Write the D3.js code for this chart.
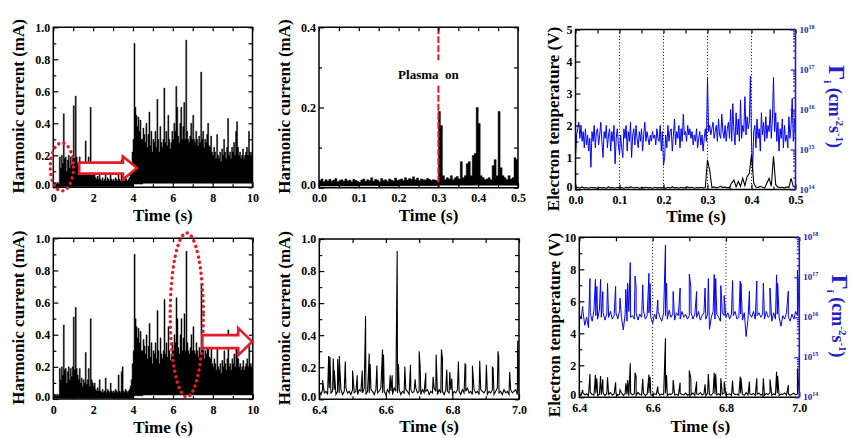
<!DOCTYPE html>
<html><head><meta charset="utf-8">
<script src="https://cdn.jsdelivr.net/npm/d3@7"></script>
<style>
body{margin:0;background:#fff}
svg{display:block}
</style>
</head><body>
<svg id="chart" width="859" height="438"></svg>
<script>
// ===================== DATA =====================
// 0-10 s harmonic current record (mA): per-bin maxima (0.05 s bins) and minima (0.5 s bins)
const longTimeStep = 0.05;
const harmonicLongMax = [
 0.03,0.02,0.03,0.02,0.03,0.02,0.19,0.12,0.20,0.15,0.46,0.18,0.19,0.10,0.17,0.20,0.12,0.19,0.14,0.20,
 0.51,0.18,0.57,0.19,0.15,0.12,0.19,0.10,0.13,0.08,0.12,0.10,0.29,0.09,0.12,0.19,0.08,0.50,0.12,0.10,
 0.08,0.10,0.06,0.05,0.07,0.05,0.12,0.05,0.04,0.06,0.04,0.05,0.13,0.04,0.06,0.05,0.04,0.10,0.05,0.04,
 0.05,0.04,0.06,0.05,0.04,0.15,0.05,0.04,0.17,0.20,0.05,0.04,0.06,0.05,0.04,0.05,0.06,0.08,0.12,0.22,
 0.30,0.90,0.50,0.45,0.38,0.44,0.35,0.42,0.30,0.30,0.37,0.33,0.28,0.40,0.25,0.33,0.47,0.26,0.35,0.22,
 0.30,0.28,0.35,0.25,0.55,0.30,0.22,0.38,0.28,0.25,0.30,0.62,0.28,0.35,0.26,0.45,0.30,0.24,0.28,0.35,
 0.30,0.40,0.35,0.63,0.50,0.32,0.28,0.40,0.50,0.30,0.38,0.53,0.30,0.92,0.35,0.30,0.28,0.32,0.40,0.30,
 0.45,0.30,0.28,0.35,0.30,0.26,0.32,0.28,0.72,0.30,0.35,0.25,0.30,0.28,0.33,0.40,0.26,0.25,0.32,0.22,
 0.20,0.25,0.22,0.18,0.33,0.20,0.18,0.22,0.16,0.24,0.20,0.30,0.22,0.18,0.25,0.43,0.20,0.22,0.18,0.25,
 0.22,0.28,0.20,0.35,0.41,0.25,0.20,0.22,0.18,0.20,0.24,0.18,0.20,0.22,0.25,0.20,0.35,0.22,0.20,0.22
];
const harmonicLongMinStep = 0.5;
const harmonicLongMin = [0.005,0.005,0.005,0.005,0.005,0.005,0.005,0.005,0.02,0.025,
                         0.025,0.025,0.025,0.025,0.025,0.025,0.025,0.025,0.025,0.025];

// 0-0.5 s harmonic current at plasma onset (mA): 0.005 s bin maxima, 0.05 s bin minima
const onsetStep = 0.005;
const harmonicOnsetMax = [
 0.018,0.022,0.015,0.020,0.017,0.021,0.016,0.019,0.023,0.015,0.018,0.020,0.016,0.022,0.017,0.019,0.015,0.021,0.018,0.016,
 0.014,0.019,0.022,0.016,0.020,0.018,0.025,0.017,0.021,0.019,0.015,0.023,0.018,0.020,0.016,0.022,0.019,0.017,0.024,0.018,
 0.020,0.022,0.018,0.025,0.019,0.023,0.021,0.027,0.020,0.024,0.018,0.022,0.020,0.019,0.023,0.021,0.018,0.020,0.019,0.017,
 0.190,0.155,0.030,0.020,0.025,0.022,0.030,0.020,0.025,0.028,0.022,0.065,0.025,0.030,0.060,0.065,0.030,0.080,0.085,0.200,
 0.160,0.030,0.025,0.020,0.022,0.025,0.020,0.055,0.070,0.030,0.190,0.050,0.030,0.025,0.020,0.030,0.022,0.025,0.075,0.070
];
const harmonicOnsetMinStep = 0.05;
const harmonicOnsetMin = [0.004,0.004,0.005,0.004,0.005,0.005,0.006,0.006,0.006,0.006];

// 0-0.5 s electron temperature (V), 0.005 s sampling
const teOnsetStep = 0.005;
const teOnset = [
 0.05,0.07,0.04,0.08,0.05,0.06,0.04,0.07,0.05,0.06,0.03,0.07,0.05,0.06,0.04,0.08,0.05,0.06,0.04,0.07,
 0.05,0.06,0.04,0.07,0.05,0.08,0.06,0.05,0.07,0.04,0.06,0.05,0.07,0.05,0.06,0.04,0.07,0.05,0.06,0.05,
 0.06,0.04,0.07,0.05,0.08,0.05,0.06,0.04,0.07,0.05,0.06,0.08,0.05,0.07,0.04,0.06,0.05,0.07,0.05,0.06,
 0.93,0.60,0.06,0.08,0.05,0.07,0.10,0.06,0.08,0.05,0.07,0.20,0.30,0.08,0.25,0.10,0.35,0.12,0.40,0.50,
 1.10,0.20,0.08,0.06,0.10,0.07,0.05,0.20,0.35,0.10,1.04,0.15,0.08,0.06,0.07,0.05,0.08,0.06,0.35,0.10,0.06
];
// 0-0.5 s ion flux, in units of 1e15 cm^-2 s^-1, 0.0025 s sampling
const fluxUnit = 1e15;
const fluxOnsetStep = 0.0025;
const fluxOnset = [
 0.63,2.3,3.3,4.8,1.9,4.0,1.6,2.8,1.1,3.3,1.3,2.3,0.91,1.9,0.36,2.8,1.6,4.0,1.1,2.8,
 3.3,1.3,2.3,4.8,1.6,0.63,2.8,1.9,4.0,1.1,2.3,3.3,0.91,2.8,1.6,4.0,0.44,1.9,3.3,1.3,
 0.76,2.3,1.1,0.63,3.3,1.9,4.0,0.91,2.8,1.6,4.8,0.63,2.3,3.3,1.3,4.0,1.9,1.1,2.8,1.6,
 3.3,0.91,2.3,4.8,1.6,2.8,1.9,1.3,2.3,1.6,2.8,1.9,2.3,1.3,3.3,1.9,1.6,4.0,0.91,2.8,
 0.40,0.63,2.3,1.1,4.0,1.6,2.8,3.3,0.91,2.3,5.8,1.3,2.8,1.9,4.0,1.1,3.3,1.6,7.6,2.3,
 2.8,1.6,4.0,2.3,3.3,1.9,2.8,1.3,2.3,1.6,3.3,1.1,1.9,2.8,1.3,2.3,0.91,1.9,3.3,1.6,
 63,2.8,4.0,2.3,3.3,4.8,1.9,2.8,4.0,1.6,5.8,2.3,1.9,7.6,2.8,1.9,4.0,1.6,3.3,4.8,
 1.9,10,1.6,14,2.8,1.3,8.3,2.3,5.8,1.6,17.4,1.9,4.0,2.8,21,2.3,6.6,3.3,4.8,69,
 1.6,0.28,2.8,4.0,1.1,5.8,1.9,3.3,0.91,8.3,2.3,4.8,1.6,6.6,1.9,4.0,2.8,10,1.9,5.8,
 63,2.8,8.3,1.6,4.8,0.91,3.3,1.9,5.8,1.1,4.0,1.6,2.3,1.1,6.6,1.9,4.0,19,1.6,5.8,1.9
];

// 6.4-7.0 s window: baselines sampled every 0.005 s plus discrete spikes
const zoomStart = 6.4, zoomStep = 0.005;
const harmonicZoomBase = [
 0.05,0.03,0.06,0.04,0.05,0.03,0.07,0.04,0.05,0.06,0.03,0.05,0.04,0.06,0.03,0.05,0.07,0.04,0.05,0.03,
 0.06,0.04,0.05,0.03,0.06,0.05,0.04,0.07,0.03,0.05,0.04,0.06,0.05,0.03,0.06,0.04,0.05,0.07,0.04,0.05,
 0.03,0.06,0.04,0.05,0.03,0.07,0.05,0.04,0.06,0.03,0.05,0.04,0.06,0.05,0.03,0.06,0.04,0.05,0.07,0.04,
 0.05,0.03,0.06,0.04,0.05,0.06,0.03,0.05,0.04,0.07,0.05,0.03,0.06,0.04,0.05,0.03,0.06,0.05,0.04,0.06,
 0.03,0.05,0.04,0.06,0.05,0.03,0.06,0.04,0.05,0.07,0.04,0.05,0.03,0.06,0.04,0.05,0.03,0.06,0.05,0.04,
 0.06,0.03,0.05,0.04,0.06,0.03,0.05,0.07,0.04,0.05,0.03,0.06,0.04,0.05,0.03,0.06,0.04,0.05,0.06,0.03,0.05
];
const harmonicSpikeTime = [6.410,6.428,6.432,6.442,6.445,6.455,6.460,6.478,6.500,6.514,6.529,6.539,6.550,6.553,6.573,6.590,6.593,6.613,6.619,6.634,6.638,6.657,6.674,6.688,6.700,6.703,6.720,6.742,6.751,6.767,6.770,6.783,6.792,6.798,6.818,6.838,6.840,6.860,6.882,6.902,6.920,6.922,6.937,6.939,6.972,6.996];
const harmonicSpikeValue = [0.12,0.27,0.265,0.255,0.18,0.25,0.27,0.235,0.18,0.15,0.18,0.52,0.285,0.22,0.21,0.31,0.28,0.15,0.15,0.925,0.22,0.205,0.215,0.125,0.30,0.205,0.165,0.14,0.28,0.31,0.255,0.185,0.17,0.13,0.235,0.22,0.215,0.21,0.24,0.215,0.20,0.195,0.30,0.265,0.17,0.365];

const teZoomBase = [
 0.20,0.12,0.28,0.15,0.22,0.10,0.30,0.18,0.14,0.25,0.11,0.20,0.16,0.27,0.12,0.22,0.18,0.30,0.14,0.20,
 0.25,0.13,0.19,0.28,0.12,0.22,0.17,0.10,0.26,0.15,0.21,0.12,0.30,0.18,0.14,0.24,0.11,0.20,0.27,0.15,
 0.12,0.22,0.18,0.29,0.13,0.20,0.16,0.25,0.11,0.21,0.17,0.28,0.14,0.19,0.12,0.24,0.18,0.15,0.26,0.13,
 0.20,0.16,0.27,0.12,0.22,0.18,0.30,0.14,0.21,0.11,0.25,0.17,0.13,0.28,0.19,0.15,0.23,0.12,0.20,0.26,
 0.14,0.18,0.22,0.11,0.27,0.16,0.20,0.13,0.25,0.18,0.12,0.29,0.15,0.21,0.17,0.24,0.11,0.20,0.26,0.14,
 0.19,0.12,0.23,0.17,0.28,0.13,0.21,0.16,0.25,0.11,0.20,0.18,0.27,0.14,0.22,0.12,0.19,0.26,0.15,0.21,0.18
];
const fluxZoomBase = [
 12,9,14,6.3,10,5.5,13,8,15,11,9,16,10,13,8.5,12,10,14,9,11,
 13,9,15,10,4.8,12,8,14,10,11,9,13,8.5,12,10,15,9,11,13,10,
 7,12,9,14,10,8,13,11,9,15,10,12,8.5,13,11,9,14,10,12,9,
 11,13,9,12,10,14,8.5,11,13,9,12,5,10,14,9,12,10,8,13,11,
 10,13,9,12,11,14,9,10,12,8.5,13,3.3,9,12,10,14,9,11,13,10,
 12,9,14,10,11,8,13,9,12,10,6,11,9,13,10,8,12,9,14,11,10
];
const spikeTime6 = [6.409,6.429,6.444,6.448,6.458,6.464,6.477,6.499,6.511,6.527,6.532,6.539,6.552,6.555,6.573,6.590,6.593,6.614,6.635,6.638,6.656,6.675,6.700,6.704,6.720,6.743,6.752,6.768,6.772,6.786,6.795,6.818,6.839,6.841,6.864,6.884,6.902,6.920,6.938,6.941,6.970,6.995];
const teSpike6 = [0.46,1.46,1.40,1.19,1.33,1.13,1.25,0.94,0.46,0.88,1.08,2.12,1.54,1.29,1.15,1.42,1.29,0.67,3.69,1.40,1.08,0.92,1.67,1.19,0.98,0.81,1.46,1.54,1.46,1.19,0.98,1.04,1.29,1.19,0.98,1.19,1.19,1.13,1.60,1.33,0.77,1.81];
const fluxSpike6 = [18.6,93,89,59,89,44,71,59,30,50,71,234,107,59,65,126,70,27,646,71,44,54,120,60,44,54,93,117,93,62,35,83,81,70,45,81,71,54,115,70,45,151];

// axis ticks / labels
const longTimeTicks = [0,2,4,6,8,10], longTimeMinor = [1,3,5,7,9];
const currentTicks = [0,0.2,0.4,0.6,0.8,1.0], currentMinor = [0.1,0.3,0.5,0.7,0.9];
const onsetTimeTicks = [0,0.1,0.2,0.3,0.4,0.5], onsetTimeMinor = [0.05,0.15,0.25,0.35,0.45];
const onsetCurrentTicks = [0,0.2,0.4], onsetCurrentMinor = [0.1,0.3];
const zoomTimeTicks = [6.4,6.6,6.8,7.0], zoomTimeMinor = [6.5,6.7,6.9];
const teTicksTop = [0,1,2,3,4,5], teMinorTop = [0.5,1.5,2.5,3.5,4.5];
const teTicksBottom = [0,2,4,6,8,10], teMinorBottom = [1,3,5,7,9];
const fluxDecades = [1e14,1e15,1e16,1e17,1e18];
const onsetMarkers = [0.1,0.2,0.3,0.4];
const zoomMarkers = [6.6,6.8];
const plasmaOnTime = 0.3;

// ===================== DRAWING =====================
const FONT = '"Liberation Serif","Times New Roman",serif';
const RED = "#e31b2a", BLUE = "#0000ff", BLUE_TXT = "#2020c8";
const TICK_FS = 12;
const svg = d3.select("#chart");
let clipN = 0;

const boxes = {
  p1:{left:53.3,right:252.5,top:27.3,bottom:187.3},
  p2:{left:319,right:518,top:27.3,bottom:187.7},
  p3:{left:575.5,right:795.5,top:29.5,bottom:189.5},
  p4:{left:53.3,right:252.8,top:238.3,bottom:399},
  p5:{left:319.3,right:519,top:239,bottom:399.3},
  p6:{left:579.3,right:799.3,top:237.3,bottom:397.3}
};

function makePanel(box, xd, yd){
  const x = d3.scaleLinear().domain(xd).range([box.left, box.right]);
  const y = d3.scaleLinear().domain(yd).range([box.bottom, box.top]);
  const id = "clip" + (clipN++);
  svg.append("clipPath").attr("id", id).append("rect")
     .attr("x", box.left).attr("y", box.top - 0.5)
     .attr("width", box.right - box.left).attr("height", box.bottom - box.top + 0.5);
  const g = svg.append("g");
  const plot = g.append("g").attr("clip-path", `url(#${id})`);
  return {x, y, g, plot, box};
}

function styleAxis(sel, color){
  sel.attr("font-family", FONT).attr("font-size", TICK_FS).attr("font-weight", "bold")
     .call(s => s.select(".domain").remove());
  sel.selectAll(".tick line").attr("stroke", color || "#000").attr("stroke-width", 1.2);
  sel.selectAll(".tick text").attr("fill", color || "#000");
}

function drawAxes(p, o){
  const {x, y, g, box} = p;
  g.append("g").attr("transform", `translate(0,${box.bottom})`)
   .call(d3.axisBottom(x).tickValues(o.xMajor).tickFormat(o.xFmt).tickSizeInner(-5).tickSizeOuter(0).tickPadding(6))
   .call(s => styleAxis(s));
  g.append("g").attr("transform", `translate(0,${box.bottom})`)
   .call(d3.axisBottom(x).tickValues(o.xMinor).tickFormat("").tickSizeInner(-3).tickSizeOuter(0))
   .call(s => styleAxis(s));
  g.append("g").attr("transform", `translate(0,${box.top})`)
   .call(d3.axisTop(x).tickValues(o.xMajor.concat(o.xMinor)).tickFormat("").tickSizeInner(-4).tickSizeOuter(0))
   .call(s => styleAxis(s));
  const left = g.append("g").attr("transform", `translate(${box.left},0)`)
   .call(d3.axisLeft(y).tickValues(o.yMajor).tickFormat(o.yFmt).tickSizeInner(-5).tickSizeOuter(0).tickPadding(3))
   .call(s => styleAxis(s));
  // lift the label at the origin a little so it clears the x-axis labels
  left.selectAll(".tick text").filter(d => d === o.yMajor[0]).attr("dy", "0.1em");
  g.append("g").attr("transform", `translate(${box.left},0)`)
   .call(d3.axisLeft(y).tickValues(o.yMinor).tickFormat("").tickSizeInner(-3).tickSizeOuter(0))
   .call(s => styleAxis(s));
  if (o.mirrorRight){
    g.append("g").attr("transform", `translate(${box.right},0)`)
     .call(d3.axisRight(y).tickValues(o.yMajor.concat(o.yMinor)).tickFormat("").tickSizeInner(-4).tickSizeOuter(0))
     .call(s => styleAxis(s));
  }
  g.append("path")
   .attr("d", `M${box.right},${box.top} L${box.left},${box.top} L${box.left},${box.bottom} L${box.right},${box.bottom}` + (o.mirrorRight ? ` Z` : ""))
   .attr("fill", "none").attr("stroke", "#000").attr("stroke-width", 1.5);
}

function logAxisRight(p, yR, titleCx, titleCy){
  const {g, box} = p;
  const minor = [];
  fluxDecades.slice(0, -1).forEach(d => { for (let k = 2; k <= 9; k++) minor.push(d * k); });
  g.append("g").attr("transform", `translate(${box.right},0)`)
   .call(d3.axisRight(yR).tickValues(fluxDecades).tickFormat("").tickSizeInner(-5).tickSizeOuter(0))
   .call(s => styleAxis(s, BLUE_TXT));
  g.append("g").attr("transform", `translate(${box.right},0)`)
   .call(d3.axisRight(yR).tickValues(minor).tickFormat("").tickSizeInner(-2.5).tickSizeOuter(0))
   .call(s => styleAxis(s, BLUE_TXT));
  g.append("line").attr("x1", box.right).attr("x2", box.right).attr("y1", box.top).attr("y2", box.bottom)
   .attr("stroke", BLUE_TXT).attr("stroke-width", 1.6);
  fluxDecades.forEach(d => {
    const t = g.append("text").attr("x", box.right + 4).attr("y", yR(d) + 3)
      .attr("font-family", FONT).attr("font-weight", "bold").attr("font-size", 9).attr("fill", BLUE_TXT);
    t.append("tspan").text("10");
    t.append("tspan").attr("font-size", 6).attr("dy", -4).text(Math.round(Math.log10(d)));
  });
  const tt = g.append("text").attr("transform", `translate(${titleCx},${titleCy}) rotate(90)`)
    .attr("text-anchor", "middle").attr("font-family", FONT).attr("font-weight", "bold")
    .attr("font-size", 18).attr("fill", BLUE_TXT);
  tt.append("tspan").attr("font-size", 24).text("Γ");
  tt.append("tspan").attr("font-size", 11).attr("dy", 5).text("i");
  tt.append("tspan").attr("dy", -5).text(" (cm");
  tt.append("tspan").attr("font-size", 11).attr("dy", -7).text("-2");
  tt.append("tspan").attr("dy", 7).text("s");
  tt.append("tspan").attr("font-size", 11).attr("dy", -7).text("-1");
  tt.append("tspan").attr("dy", 7).text(")");
}

function yTitle(text, cx, cy){
  svg.append("text").attr("transform", `translate(${cx},${cy}) rotate(-90)`)
    .attr("text-anchor", "middle").attr("font-family", FONT).attr("font-weight", "bold")
    .attr("font-size", 17).attr("fill", "#000").text(text);
}
function xTitle(cx, by){
  svg.append("text").attr("x", cx).attr("y", by).attr("text-anchor", "middle")
    .attr("font-family", FONT).attr("font-weight", "bold").attr("font-size", 17).attr("fill", "#000").text("Time (s)");
}

function envelopePoints(maxArr, step, minArr, minStep){
  const pts = [];
  maxArr.forEach((v, i) => {
    const lo = minArr[Math.min(minArr.length - 1, Math.floor((i * step) / minStep + 1e-9))];
    pts.push({t: i * step, lo, hi: v});
    pts.push({t: (i + 1) * step, lo, hi: v});
  });
  return pts;
}
function drawEnvelope(p, pts){
  const area = d3.area().x(d => p.x(d.t)).y0(d => p.y(d.lo)).y1(d => p.y(d.hi));
  p.plot.append("path").attr("d", area(pts)).attr("fill", "#000").attr("stroke", "#000").attr("stroke-width", 0.5);
}

function hollowArrow(g, x0, x1, yc, bodyH, headH, headL){
  const d = `M${x0},${yc-bodyH} L${x1-headL},${yc-bodyH} L${x1-headL},${yc-headH} L${x1},${yc} L${x1-headL},${yc+headH} L${x1-headL},${yc+bodyH} L${x0},${yc+bodyH} Z`;
  g.append("path").attr("d", d).attr("fill", "#fff").attr("stroke", RED).attr("stroke-width", 2.6).attr("stroke-linejoin", "miter");
}
function dottedEllipse(g, cx, cy, rx, ry){
  g.append("ellipse").attr("cx", cx).attr("cy", cy).attr("rx", rx).attr("ry", ry)
   .attr("fill", "none").attr("stroke", RED).attr("stroke-width", 3.4)
   .attr("stroke-dasharray", "0.1,5.4").attr("stroke-linecap", "round");
}

const fmt1 = d3.format(".1f"), fmtInt = d3.format("d");
const TITLE_GAP = 33.5;

// ---------- Panel 1 & 4 : 0-10 s harmonic current ----------
const longPts = envelopePoints(harmonicLongMax, longTimeStep, harmonicLongMin, harmonicLongMinStep);
["p1", "p4"].forEach((key, k) => {
  const p = makePanel(boxes[key], [0, 10], [0, 1]);
  drawEnvelope(p, longPts);
  drawAxes(p, {xMajor: longTimeTicks, xMinor: longTimeMinor, xFmt: fmtInt,
               yMajor: currentTicks, yMinor: currentMinor, yFmt: fmt1, mirrorRight: true});
  yTitle("Harmonic current (mA)", boxes[key].left - 29, (boxes[key].top + boxes[key].bottom) / 2 - 1);
  xTitle((boxes[key].left + boxes[key].right) / 2 + 10, boxes[key].bottom + TITLE_GAP);
  if (k === 0){
    dottedEllipse(p.g, p.x(0.43), p.y(0.127), p.x(0.58) - p.x(0), p.y(0) - p.y(0.15));
    hollowArrow(p.g, p.x(1.3), p.x(4.2), p.y(0.12), 5.5, 11.5, 14);
  } else {
    dottedEllipse(p.g, p.x(6.69), p.y(0.523), p.x(0.83) - p.x(0), p.y(0) - p.y(0.51));
    hollowArrow(p.g, p.x(7.47), p.x(9.97), p.y(0.357), 6.5, 13.5, 14);
  }
});

// ---------- Panel 2 : onset harmonic current ----------
{
  const p = makePanel(boxes.p2, [0, 0.5], [0, 0.4]);
  drawEnvelope(p, envelopePoints(harmonicOnsetMax, onsetStep, harmonicOnsetMin, harmonicOnsetMinStep));
  [[0.4, 0.318], [0.254, 0]].forEach(([a, b]) => {
    p.g.append("line").attr("x1", p.x(plasmaOnTime)).attr("x2", p.x(plasmaOnTime))
      .attr("y1", p.y(a)).attr("y2", p.y(b)).attr("stroke", RED).attr("stroke-width", 2)
      .attr("stroke-dasharray", "7,2");
  });
  p.g.append("text").attr("x", p.x(0.275)).attr("y", p.y(0.272)).attr("text-anchor", "middle")
    .attr("font-family", FONT).attr("font-weight", "bold").attr("font-size", 13).attr("fill", "#000")
    .attr("xml:space", "preserve").style("white-space", "pre").text("Plasma  on");
  drawAxes(p, {xMajor: onsetTimeTicks, xMinor: onsetTimeMinor, xFmt: fmt1,
               yMajor: onsetCurrentTicks, yMinor: onsetCurrentMinor, yFmt: fmt1, mirrorRight: true});
  yTitle("Harmonic current (mA)", boxes.p2.left - 29, (boxes.p2.top + boxes.p2.bottom) / 2 - 1);
  xTitle((boxes.p2.left + boxes.p2.right) / 2 + 10, boxes.p2.bottom + TITLE_GAP);
}

// ---------- Panel 3 : onset Te and flux ----------
{
  const p = makePanel(boxes.p3, [0, 0.5], [0, 5]);
  const yR = d3.scaleLog().domain([1e14, 1e18]).range([boxes.p3.bottom, boxes.p3.top]);
  onsetMarkers.forEach(t => p.plot.append("line").attr("x1", p.x(t)).attr("x2", p.x(t))
    .attr("y1", boxes.p3.top).attr("y2", boxes.p3.bottom).attr("stroke", "#000")
    .attr("stroke-width", 1).attr("stroke-dasharray", "1,2.2"));
  const fluxLine = d3.line().x((d, i) => p.x(i * fluxOnsetStep)).y(d => yR(d * fluxUnit));
  p.plot.append("path").attr("d", fluxLine(fluxOnset)).attr("fill", "none").attr("stroke", BLUE).attr("stroke-width", 1);
  const teLine = d3.line().x((d, i) => p.x(i * teOnsetStep)).y(d => p.y(d));
  p.plot.append("path").attr("d", teLine(teOnset)).attr("fill", "none").attr("stroke", "#000").attr("stroke-width", 1.1);
  drawAxes(p, {xMajor: onsetTimeTicks, xMinor: onsetTimeMinor, xFmt: fmt1,
               yMajor: teTicksTop, yMinor: teMinorTop, yFmt: fmtInt, mirrorRight: false});
  logAxisRight(p, yR, 829, 106.5);
  yTitle("Electron temperature (V)", 559, 119);
  xTitle((boxes.p3.left + boxes.p3.right) / 2 + 10.5, boxes.p3.bottom + TITLE_GAP - 1);
}

// ---------- Panel 5 : 6.4-7.0 s harmonic current ----------
function mergeSeries(base, spikeT, spikeV){
  const pts = base.map((v, i) => ({t: zoomStart + i * zoomStep, v}));
  spikeT.forEach((t, i) => pts.push({t, v: spikeV[i]}));
  return pts.sort((a, b) => a.t - b.t);
}
{
  const p = makePanel(boxes.p5, [6.4, 7.0], [0, 1]);
  const line = d3.line().x(d => p.x(d.t)).y(d => p.y(d.v));
  p.plot.append("path").attr("d", line(mergeSeries(harmonicZoomBase, harmonicSpikeTime, harmonicSpikeValue)))
    .attr("fill", "none").attr("stroke", "#000").attr("stroke-width", 1.1);
  drawAxes(p, {xMajor: zoomTimeTicks, xMinor: zoomTimeMinor, xFmt: fmt1,
               yMajor: currentTicks, yMinor: currentMinor, yFmt: fmt1, mirrorRight: true});
  yTitle("Harmonic current (mA)", boxes.p5.left - 29, (boxes.p5.top + boxes.p5.bottom) / 2 - 1);
  xTitle((boxes.p5.left + boxes.p5.right) / 2 + 10, boxes.p5.bottom + TITLE_GAP - 0.5);
}

// ---------- Panel 6 : 6.4-7.0 s Te and flux ----------
{
  const p = makePanel(boxes.p6, [6.4, 7.0], [0, 10]);
  const yR = d3.scaleLog().domain([1e14, 1e18]).range([boxes.p6.bottom, boxes.p6.top]);
  zoomMarkers.forEach(t => p.plot.append("line").attr("x1", p.x(t)).attr("x2", p.x(t))
    .attr("y1", boxes.p6.top).attr("y2", boxes.p6.bottom).attr("stroke", "#000")
    .attr("stroke-width", 1).attr("stroke-dasharray", "1,2.2"));
  const fl = d3.line().x(d => p.x(d.t)).y(d => yR(d.v * fluxUnit));
  p.plot.append("path").attr("d", fl(mergeSeries(fluxZoomBase, spikeTime6, fluxSpike6)))
    .attr("fill", "none").attr("stroke", BLUE).attr("stroke-width", 1);
  const tl = d3.line().x(d => p.x(d.t)).y(d => p.y(d.v));
  p.plot.append("path").attr("d", tl(mergeSeries(teZoomBase, spikeTime6, teSpike6)))
    .attr("fill", "none").attr("stroke", "#000").attr("stroke-width", 1.1);
  drawAxes(p, {xMajor: zoomTimeTicks, xMinor: zoomTimeMinor, xFmt: fmt1,
               yMajor: teTicksBottom, yMinor: teMinorBottom, yFmt: fmtInt, mirrorRight: false});
  logAxisRight(p, yR, 832, 316);
  yTitle("Electron temperature (V)", 560, 325);
  xTitle((boxes.p6.left + boxes.p6.right) / 2 + 11, boxes.p6.bottom + TITLE_GAP + 1);
}
</script>
</body></html>
